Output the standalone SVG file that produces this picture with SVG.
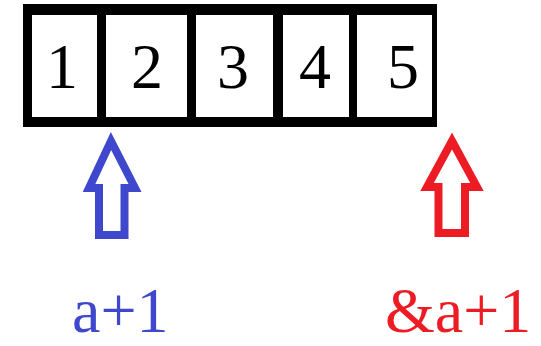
<svg xmlns="http://www.w3.org/2000/svg" width="541" height="346" viewBox="0 0 541 346">
<style>
.cell{fill:#fff}
.d{font-family:"Liberation Serif",serif;font-size:64px;fill:#000;text-anchor:middle}
.lbl{font-family:"Liberation Serif",serif;font-size:64px}
.arr{fill:#fff;stroke-width:8;stroke-linejoin:miter}
</style>
<rect width="541" height="346" fill="#fff"/>
<g id="array">
<rect x="23" y="4" width="414" height="123" fill="#000"/>
</g>
<g id="cell1"><rect class="cell" x="32" y="15" width="65" height="102"/><text class="d" x="62" y="88">1</text></g>
<g id="cell2"><rect class="cell" x="106" y="15" width="81" height="102"/><text class="d" x="147" y="88">2</text></g>
<g id="cell3"><rect class="cell" x="196" y="15" width="77" height="102"/><text class="d" x="233" y="88">3</text></g>
<g id="cell4"><rect class="cell" x="283" y="15" width="66" height="102"/><text class="d" x="315" y="88">4</text></g>
<g id="cell5"><rect class="cell" x="357" y="15" width="75" height="102"/><text class="d" x="403" y="88">5</text></g>
<g id="connectors">
<polygon class="arr" stroke="#3f48cc" points="111,141 135,188 124.5,188 124.5,235 99,235 99,188 89,188"/>
<polygon class="arr" stroke="#ed1c24" points="452,141 477,187 465,187 465,233 438.5,233 438.5,187 427,187"/>
</g>
<g id="label-a1"><text class="lbl" x="72" y="332" fill="#3f48cc">a+1</text></g>
<g id="label-ref"><text class="lbl" x="385" y="332" fill="#ed1c24">&amp;a+1</text></g>
</svg>
